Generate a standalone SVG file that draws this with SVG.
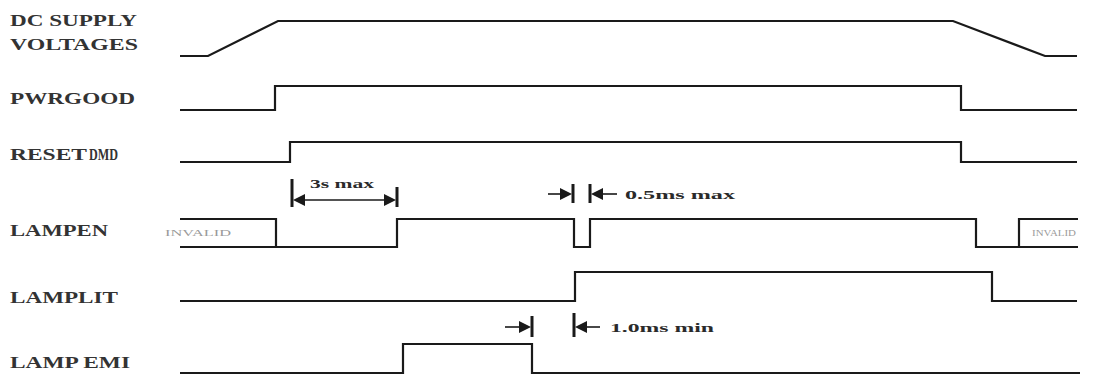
<svg xmlns="http://www.w3.org/2000/svg" width="1100" height="376" viewBox="0 0 1100 376">
<style>
.lbl{font-family:"Liberation Serif",serif;font-weight:bold;font-size:17px;fill:#333}
.dim{font-family:"Liberation Serif",serif;font-weight:bold;font-size:13px;fill:#2a2a2a}
.inv{font-family:"Liberation Serif",serif;font-size:9px;fill:#999}
.sig{fill:none;stroke:#1a1a1a;stroke-width:2.2;stroke-linejoin:miter}
.tick{stroke:#1a1a1a;stroke-width:3}
.dl{stroke:#1a1a1a;stroke-width:1.6}
.ah{fill:#1a1a1a}
</style>
<rect width="1100" height="376" fill="#fff"/>
<g id="labels">
<text class="lbl" x="10" y="26" textLength="127" lengthAdjust="spacingAndGlyphs">DC SUPPLY</text>
<text class="lbl" x="10" y="50" textLength="128" lengthAdjust="spacingAndGlyphs">VOLTAGES</text>
<text class="lbl" x="10" y="104" textLength="125" lengthAdjust="spacingAndGlyphs">PWRGOOD</text>
<text class="lbl" x="10" y="160" textLength="77" lengthAdjust="spacingAndGlyphs">RESET</text>
<text class="lbl" x="89" y="160" textLength="29" lengthAdjust="spacingAndGlyphs" font-weight="normal" font-size="15">DMD</text>
<text class="lbl" x="10" y="236" textLength="98" lengthAdjust="spacingAndGlyphs">LAMPEN</text>
<text class="lbl" x="10" y="303" textLength="108" lengthAdjust="spacingAndGlyphs">LAMPLIT</text>
<text class="lbl" x="10" y="368" textLength="120" lengthAdjust="spacingAndGlyphs">LAMP EMI</text>
</g>
<g id="dc-supply">
<polyline class="sig" points="180,56 208,56 278,21 953,21 1045,56 1077,56"/>
</g>
<g id="pwrgood">
<polyline class="sig" points="180,110 275,110 275,86 961,86 961,110 1077,110"/>
</g>
<g id="resetdmd">
<polyline class="sig" points="180,162 290,162 290,142 961,142 961,162 1077,162"/>
</g>
<g id="lampen">
<polyline class="sig" points="180,219 276,219 276,247"/>
<polyline class="sig" points="180,247 397,247 397,219 574,219 574,247 590,247 590,219 976,219 976,247 1019,247 1019,219 1078,219"/>
<line class="sig" x1="1019" y1="247" x2="1078" y2="247"/>
<text class="inv" x="165" y="236" textLength="66" lengthAdjust="spacingAndGlyphs">INVALID</text>
<text class="inv" x="1032" y="236" textLength="44" lengthAdjust="spacingAndGlyphs">INVALID</text>
</g>
<g id="lamplit">
<polyline class="sig" points="180,301 575,301 575,272 992,272 992,301 1077,301"/>
</g>
<g id="lamp-emi">
<polyline class="sig" points="180,373 403,373 403,344 532,344 532,373 1080,373"/>
</g>
<g id="dimensions">
<line class="tick" x1="292" y1="179" x2="292" y2="207"/>
<line class="tick" x1="397" y1="187" x2="397" y2="207"/>
<line class="dl" x1="300" y1="200" x2="390" y2="200"/>
<polygon class="ah" points="293,200 305,194 305,206"/>
<polygon class="ah" points="396,200 384,194 384,206"/>
<text class="dim" x="310" y="188" textLength="64" lengthAdjust="spacingAndGlyphs">3s max</text>

<line class="tick" x1="573" y1="184" x2="573" y2="203"/>
<line class="tick" x1="590" y1="184" x2="590" y2="203"/>
<line class="dl" x1="548" y1="194" x2="566" y2="194"/>
<line class="dl" x1="597" y1="194" x2="617" y2="194"/>
<polygon class="ah" points="572,194 560,188 560,200"/>
<polygon class="ah" points="591,194 603,188 603,200"/>
<text class="dim" x="625" y="199" textLength="110" lengthAdjust="spacingAndGlyphs">0.5ms max</text>

<line class="tick" x1="532" y1="316" x2="532" y2="337"/>
<line class="tick" x1="574" y1="313" x2="574" y2="337"/>
<line class="dl" x1="505" y1="327" x2="525" y2="327"/>
<line class="dl" x1="581" y1="327" x2="600" y2="327"/>
<polygon class="ah" points="531,327 519,321 519,333"/>
<polygon class="ah" points="575,327 587,321 587,333"/>
<text class="dim" x="610" y="332" textLength="104" lengthAdjust="spacingAndGlyphs">1.0ms min</text>
</g>
</svg>
